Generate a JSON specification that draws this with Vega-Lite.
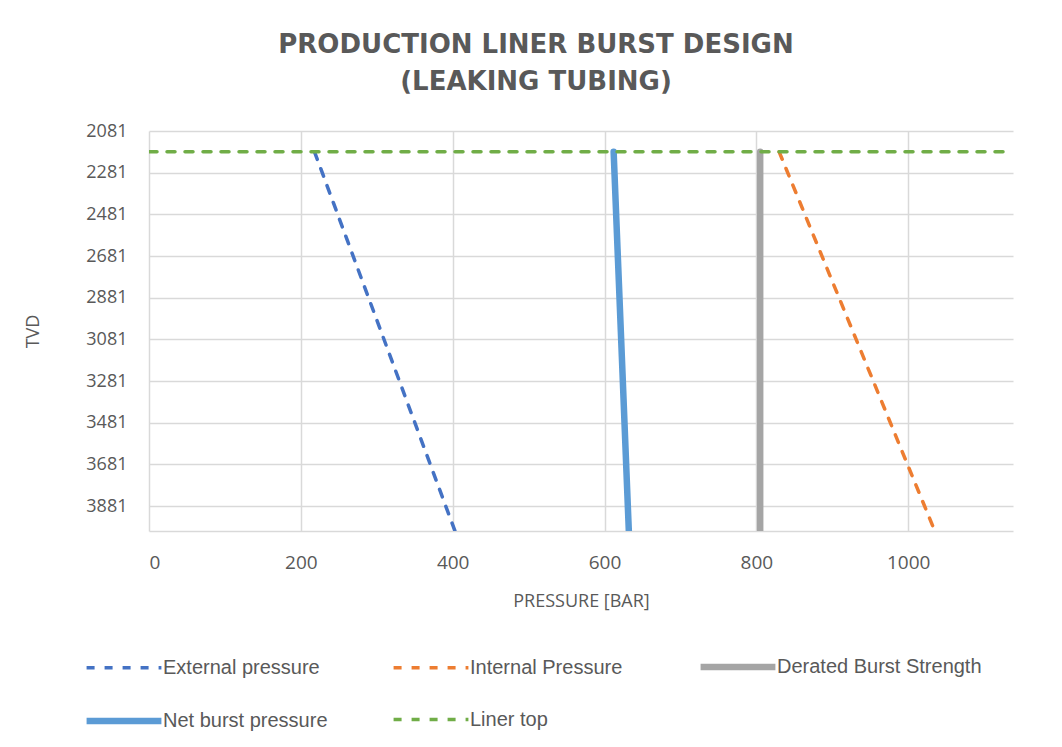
{
  "$schema": "https://vega.github.io/schema/vega-lite/v6.json",
  "autosize": {"type": "none"},
  "width": 864,
  "height": 400,
  "padding": {"left": 149, "top": 131, "right": 49, "bottom": 216},
  "background": "white",
  "title": {
    "text": ["PRODUCTION LINER BURST DESIGN", "(LEAKING TUBING)"],
    "font": "DejaVu Sans",
    "fontSize": 26,
    "fontWeight": "bold",
    "color": "#595959",
    "lineHeight": 37,
    "anchor": "middle",
    "frame": "group",
    "dx": -45,
    "offset": 27
  },
  "config": {
    "view": {"stroke": null},
    "axis": {
      "labelFont": "Open Sans",
      "titleFont": "Open Sans",
      "labelColor": "#595959",
      "titleColor": "#595959",
      "gridColor": "#d9d9d9",
      "gridWidth": 1.5,
      "ticks": false,
      "titleFontWeight": "normal"
    }
  },
  "data": {
    "values": [
      {"series": "External pressure", "p": 218, "tvd": 2181},
      {"series": "External pressure", "p": 403, "tvd": 4001},
      {"series": "Internal Pressure", "p": 830, "tvd": 2181},
      {"series": "Internal Pressure", "p": 1035, "tvd": 4001},
      {"series": "Derated Burst Strength", "p": 805, "tvd": 2181},
      {"series": "Derated Burst Strength", "p": 805, "tvd": 4001},
      {"series": "Net burst pressure", "p": 612, "tvd": 2181},
      {"series": "Net burst pressure", "p": 632, "tvd": 4001},
      {"series": "Liner top", "p": 0, "tvd": 2181},
      {"series": "Liner top", "p": 1138, "tvd": 2181}
    ]
  },
  "mark": {"type": "line", "strokeCap": "round", "clip": true},
  "encoding": {
    "x": {
      "field": "p",
      "type": "quantitative",
      "scale": {"domain": [0, 1138], "nice": false, "zero": false},
      "axis": {
        "title": "PRESSURE [BAR]",
        "values": [0, 200, 400, 600, 800, 1000],
        "format": "d",
        "labelFontSize": 19,
        "titleFontSize": 18,
        "labelPadding": 22,
        "titlePadding": 20,
        "domain": true,
        "domainColor": "#d9d9d9",
        "domainWidth": 1.5
      }
    },
    "y": {
      "field": "tvd",
      "type": "quantitative",
      "scale": {"domain": [2081, 4001], "reverse": true, "nice": false, "zero": false},
      "axis": {
        "title": "TVD",
        "values": [2081, 2281, 2481, 2681, 2881, 3081, 3281, 3481, 3681, 3881],
        "format": "d",
        "labelFontSize": 18,
        "titleFontSize": 18,
        "labelPadding": 22,
        "titlePadding": 43,
        "domain": false
      }
    },
    "color": {
      "field": "series",
      "type": "nominal",
      "sort": null,
      "scale": {
        "domain": ["External pressure", "Internal Pressure", "Derated Burst Strength", "Net burst pressure", "Liner top"],
        "range": ["#4472C4", "#ED7D31", "#A5A5A5", "#5B9BD5", "#70AD47"]
      },
      "legend": {
        "title": null,
        "orient": "none",
        "legendX": -66,
        "legendY": 495,
        "direction": "horizontal",
        "columns": 3,
        "gridAlign": "all",
        "columnPadding": 12,
        "rowPadding": -37,
        "symbolType": "stroke",
        "symbolSize": 5600,
        "labelFont": "Liberation Sans",
        "labelFontSize": 20,
        "labelColor": "#595959",
        "labelOffset": -2,
        "labelLimit": 400
      }
    },
    "strokeDash": {
      "field": "series",
      "type": "nominal",
      "sort": null,
      "scale": {
        "domain": ["External pressure", "Internal Pressure", "Derated Burst Strength", "Net burst pressure", "Liner top"],
        "range": [[8, 10], [8, 10], [1, 0], [1, 0], [8, 10]]
      },
      "legend": null
    },
    "strokeWidth": {
      "field": "series",
      "type": "nominal",
      "sort": null,
      "scale": {
        "type": "ordinal",
        "domain": ["External pressure", "Internal Pressure", "Derated Burst Strength", "Net burst pressure", "Liner top"],
        "range": [3.5, 3.5, 6.5, 6.5, 3.5]
      },
      "legend": null
    }
  }
}
